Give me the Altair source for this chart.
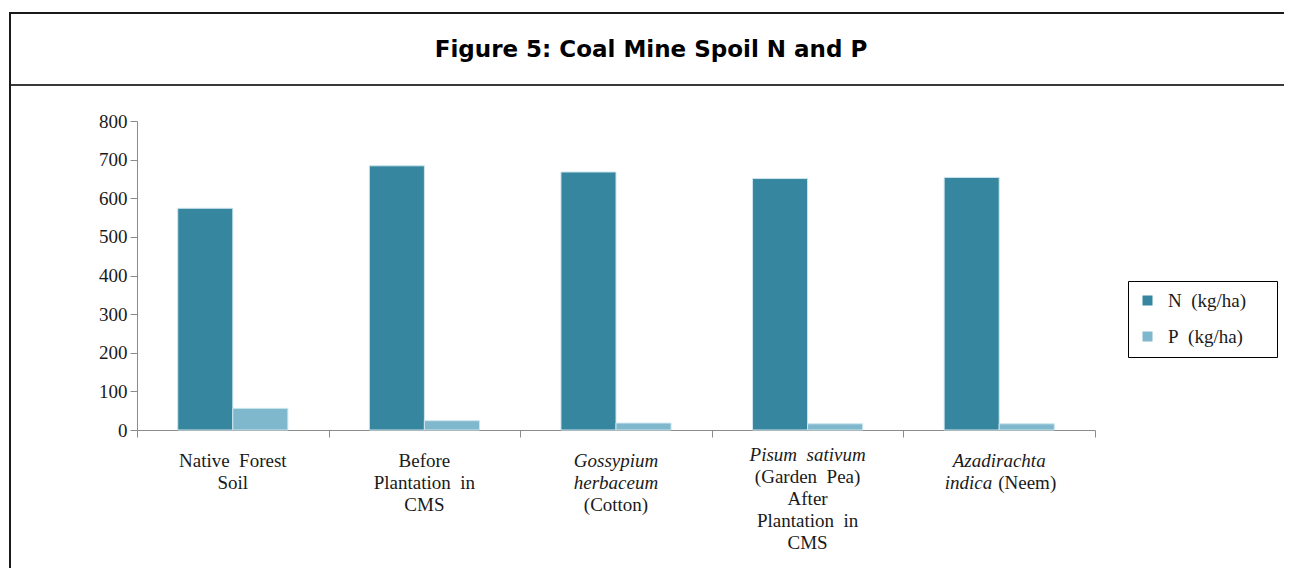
import altair as alt
import pandas as pd

# ---- data ----
categories = [
    "Native Forest Soil",
    "Before Plantation in CMS",
    "Gossypium herbaceum (Cotton)",
    "Pisum sativum (Garden Pea) After Plantation in CMS",
    "Azadirachta indica (Neem)",
]
series = ["N\u00a0 (kg/ha)", "P\u00a0 (kg/ha)"]
n_values = [574, 684, 668, 651, 654]
p_values = [56, 24, 18, 16, 16]

# multi-line category labels (text, line number, italic or not, part of line)
label_cat = [0, 0, 1, 1, 1, 2, 2, 2, 3, 3, 3, 3, 3, 4, 4, 4]
label_line = [0, 1, 0, 1, 2, 0, 1, 2, 0, 1, 2, 3, 4, 0, 1, 1]
label_text = [
    "Native\u00a0 Forest", "Soil",
    "Before", "Plantation\u00a0 in", "CMS",
    "Gossypium", "herbaceum", "(Cotton)",
    "Pisum\u00a0 sativum", "(Garden\u00a0 Pea)", "After", "Plantation\u00a0 in", "CMS",
    "Azadirachta", "indica", "(Neem)",
]
label_italic = [False, False, False, False, False, True, True, False,
                True, False, False, False, False, True, True, False]
label_part = ["c", "c", "c", "c", "c", "c", "c", "c",
              "c", "c", "c", "c", "c", "c", "r", "l"]

title_text = "Figure 5: Coal Mine Spoil N and P"

# ---- tables ----
rows = []
for i, c in enumerate(categories):
    rows.append({"category": c, "series": series[0], "value": n_values[i]})
    rows.append({"category": c, "series": series[1], "value": p_values[i]})
df = pd.DataFrame(rows)

labels_df = pd.DataFrame({
    "category": [categories[k] for k in label_cat],
    "line": label_line,
    "text": label_text,
    "italic": label_italic,
    "part": label_part,
})

one = pd.DataFrame({"t": [title_text]})

N_COLOR = "#35869e"
P_COLOR = "#7fb7cc"
AXIS_GRAY = "#8c8c8c"
SERIF = "Liberation Serif"

W, H = 958, 309

x_axis = alt.Axis(labels=False, title=None, tickBand="extent", tickSize=7,
                  domainColor=AXIS_GRAY, tickColor=AXIS_GRAY)
x_enc = alt.X("category:N", sort=categories,
              scale=alt.Scale(paddingInner=0, paddingOuter=0), axis=x_axis)

bars = alt.Chart(df).mark_bar(stroke="#cde6ee", strokeWidth=1).encode(
    x=x_enc,
    xOffset=alt.XOffset("series:N", sort=series,
                        scale=alt.Scale(paddingInner=0, paddingOuter=0.74)),
    y=alt.Y("value:Q", scale=alt.Scale(domain=[0, 800]),
            axis=alt.Axis(title=None, values=list(range(0, 801, 100)),
                          tickSize=7, labelPadding=3, grid=False,
                          domainColor=AXIS_GRAY, tickColor=AXIS_GRAY)),
    color=alt.Color("series:N", sort=series,
                    scale=alt.Scale(domain=series, range=[N_COLOR, P_COLOR]),
                    legend=alt.Legend(title="\u00a0", titleOrient="right",
                                      titlePadding=21, titleFontSize=19,
                                      orient="none", direction="vertical",
                                      legendX=991, legendY=160,
                                      strokeColor="black", fillColor="white",
                                      padding=10, symbolType="square", symbolSize=100,
                                      symbolStrokeWidth=0,
                                      labelFont=SERIF, labelFontSize=19,
                                      labelColor="#1a1a1a",
                                      labelOffset=11, rowPadding=16)),
)

line_y = alt.Y("line:Q", scale=alt.Scale(domain=[0, 4], range=[346, 434]), axis=None)

PISUM = categories[3]


def label_layer(italic, part, align, dx, pisum):
    cond = (alt.datum.italic == italic) & (alt.datum.part == part)
    if pisum:
        cond = cond & (alt.datum.category == PISUM)
    else:
        cond = cond & (alt.datum.category != PISUM)
    return alt.Chart(labels_df).transform_filter(cond).mark_text(
        font=SERIF, fontSize=19, fontStyle="italic" if italic else "normal",
        align=align, baseline="alphabetic", dx=dx, dy=-6 if pisum else 0,
        color="#1a1a1a",
    ).encode(x=x_enc, y=line_y, text="text:N")


labels = alt.layer(
    label_layer(False, "c", "center", 0, False),
    label_layer(True, "c", "center", 0, False),
    label_layer(False, "c", "center", 0, True),
    label_layer(True, "c", "center", 0, True),
    label_layer(True, "r", "right", -7, False),
    label_layer(False, "l", "left", -1, False),
)

title = alt.Chart(one).mark_text(
    font="DejaVu Sans", fontWeight="bold", fontSize=23, color="#000000",
    align="center", baseline="middle",
).encode(x=alt.value(514), y=alt.value(-71), text="t:N")

frame_top = alt.Chart(one).mark_rule(color="#1a1a1a", strokeWidth=2).encode(
    x=alt.value(-127), x2=alt.value(1160), y=alt.value(-108))
frame_sep = alt.Chart(one).mark_rule(color="#3a3a3a", strokeWidth=2).encode(
    x=alt.value(-127), x2=alt.value(1160), y=alt.value(-36))
frame_left = alt.Chart(one).mark_rule(color="#1a1a1a", strokeWidth=2).encode(
    x=alt.value(-127), y=alt.value(-109), y2=alt.value(460))

chart = alt.layer(
    frame_top, frame_sep, frame_left, title, bars, labels
).resolve_scale(y="independent").properties(
    width=W, height=H,
    autosize=alt.AutoSizeParams(type="none"),
    padding={"left": 129, "top": 113, "right": 189, "bottom": 138},
).configure_view(strokeWidth=0).configure_axis(
    labelFont=SERIF, labelFontSize=19, labelColor="#1a1a1a", domainWidth=1, tickWidth=1,
)

chart.save("out.html", embed_options={"renderer": "svg", "actions": False})
